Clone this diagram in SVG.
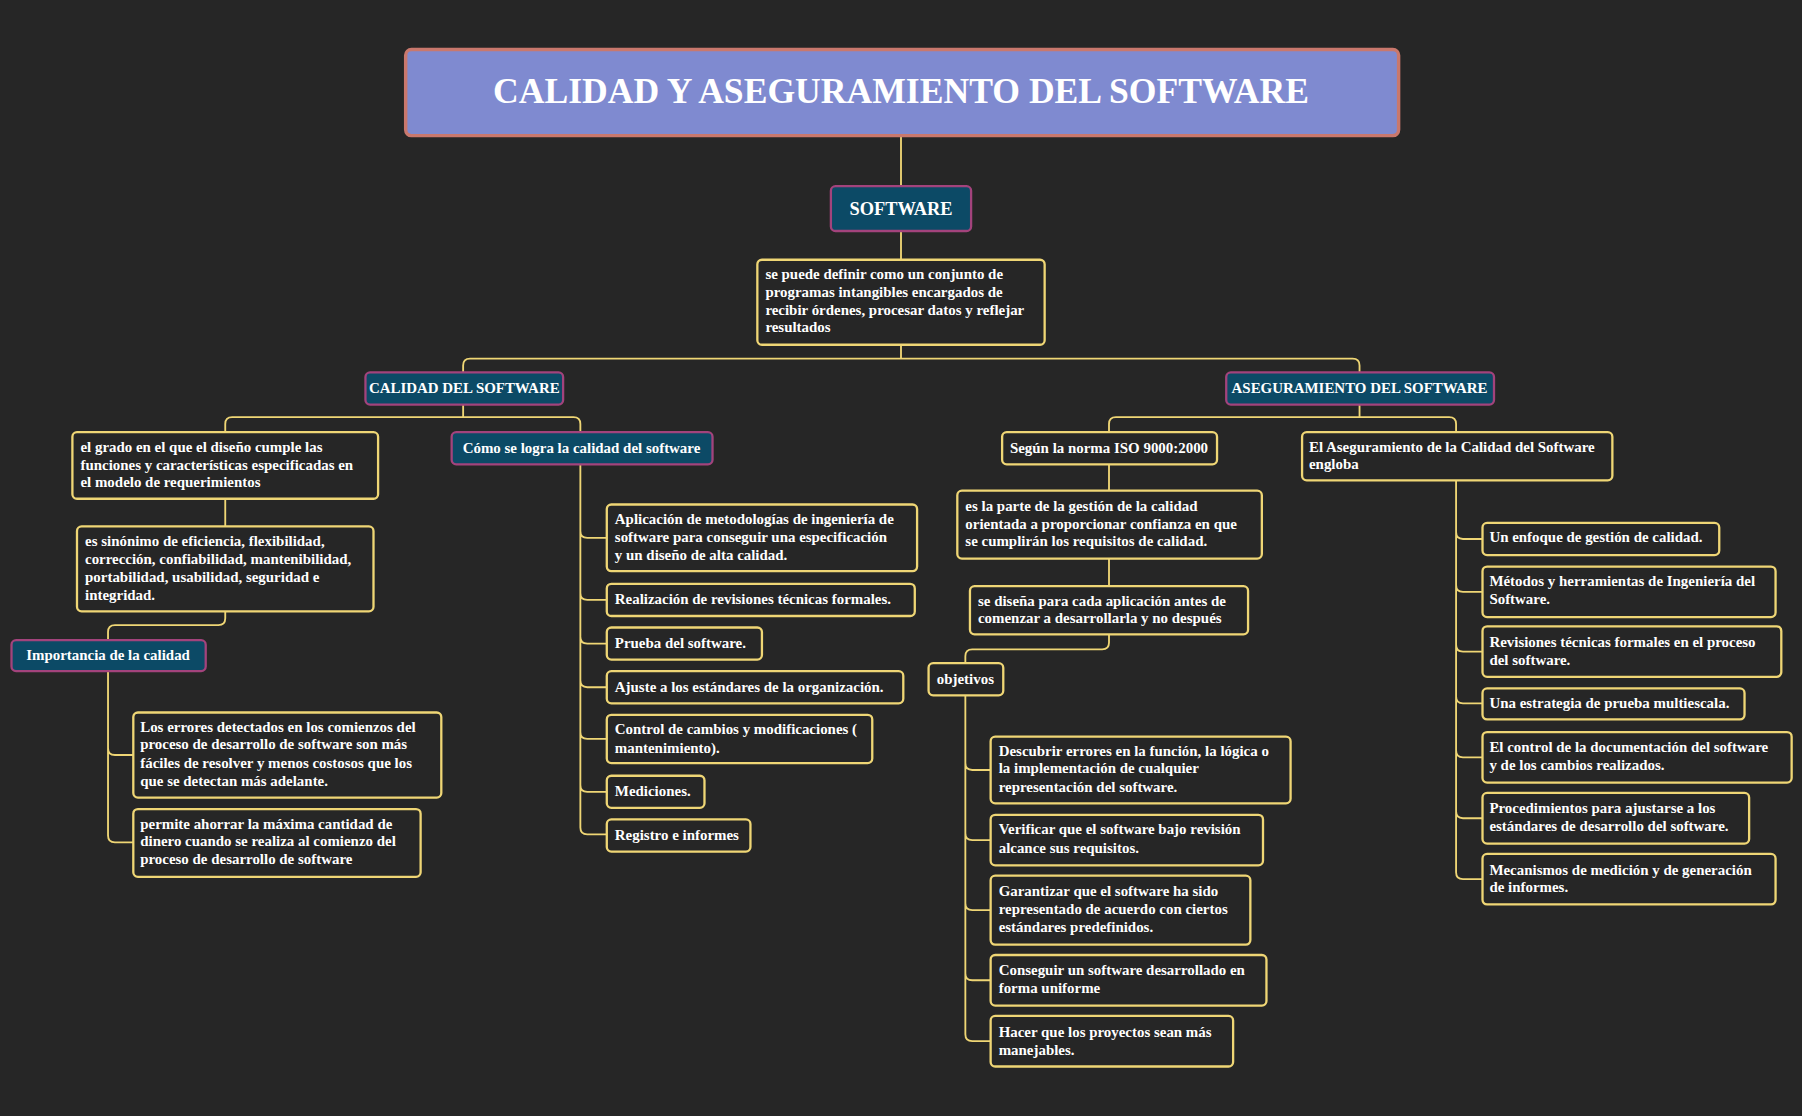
<svg xmlns="http://www.w3.org/2000/svg" width="1802" height="1116" viewBox="0 0 1802 1116">
<style>
.bg{fill:#262626}
.n rect{fill:#262626;stroke:#efd675;stroke-width:2}
.b rect{fill:#0c4a66;stroke:#a3437c;stroke-width:2}
text{font-family:"Liberation Serif","DejaVu Serif",serif;font-weight:bold;fill:#ffffff;font-size:13px}
.b text{font-size:13px}
#connectors path{fill:none;stroke:#efd675;stroke-width:1.6}
</style>
<rect class="bg" width="1802" height="1116"/>
<g transform="scale(1.14923)">
<g id="connectors">
<path d="M784,118V162M784,201V226M784,300V312M403,324V318q0,-6 6,-6H1177q6,0 6,6V324"/>
<path d="M403,352V363M196,376V369q0,-6 6,-6H499q6,0 6,6V376"/>
<path d="M1183,352V363M965,376V369q0,-6 6,-6H1261q6,0 6,6V376"/>
<path d="M196,434V458M196,532V538q0,6 -6,6H100q-6,0 -6,6V557"/>
<path d="M94,584V727q0,6 6,6H117M94,651q0,6 6,6H117"/>
<path d="M505,404V720q0,6 6,6H528M505,462q0,6 6,6H528M505,516q0,6 6,6H528M505,554q0,6 6,6H528M505,592q0,6 6,6H528M505,637q0,6 6,6H528M505,683q0,6 6,6H528"/>
<path d="M965,404V427M965,486V510M965,552V559q0,6 -6,6H846q-6,0 -6,6V577"/>
<path d="M840,605V900q0,6 6,6H862M840,664q0,6 6,6H862M840,725q0,6 6,6H862M840,786q0,6 6,6H862M840,847q0,6 6,6H862"/>
<path d="M1267,418V759q0,6 6,6H1290M1267,463q0,6 6,6H1290M1267,509q0,6 6,6H1290M1267,561q0,6 6,6H1290M1267,606q0,6 6,6H1290M1267,653q0,6 6,6H1290M1267,706q0,6 6,6H1290"/>
</g>
<g id="title"><rect x="353" y="43" width="864" height="75" rx="5" fill="#7f8ad0" stroke="#c9786d" stroke-width="3"/><text x="784" y="90" text-anchor="middle" style="font-size:31px">CALIDAD Y ASEGURAMIENTO DEL SOFTWARE</text></g>
<g id="software" class="b"><rect x="723" y="162" width="122" height="39" rx="4"/><text x="784" y="187" text-anchor="middle" style="font-size:16px">SOFTWARE</text></g>
<g id="def" class="n"><rect x="659" y="226" width="250" height="74" rx="4"/><text x="666"><tspan x="666" y="243">se puede definir como un conjunto de</tspan><tspan x="666" y="258">programas intangibles encargados de</tspan><tspan x="666" y="274">recibir órdenes, procesar datos y reflejar</tspan><tspan x="666" y="289">resultados</tspan></text></g>
<g id="calidad" class="b"><rect x="318" y="324" width="172" height="28" rx="4"/><text x="404" y="342" text-anchor="middle">CALIDAD DEL SOFTWARE</text></g>
<g id="asegur" class="b"><rect x="1067" y="324" width="233" height="28" rx="4"/><text x="1183" y="342" text-anchor="middle">ASEGURAMIENTO DEL SOFTWARE</text></g>
<g id="grado" class="n"><rect x="63" y="376" width="266" height="58" rx="4"/><text><tspan x="70" y="393">el grado en el que el diseño cumple las</tspan><tspan x="70" y="409">funciones y características especificadas en</tspan><tspan x="70" y="424">el modelo de requerimientos</tspan></text></g>
<g id="como" class="b"><rect x="393" y="376" width="227" height="28" rx="4"/><text x="506" y="394" text-anchor="middle">Cómo se logra la calidad del software</text></g>
<g id="sinonimo" class="n"><rect x="67" y="458" width="258" height="74" rx="4"/><text><tspan x="74" y="475">es sinónimo de eficiencia, flexibilidad,</tspan><tspan x="74" y="491">corrección, confiabilidad, mantenibilidad,</tspan><tspan x="74" y="506">portabilidad, usabilidad, seguridad e</tspan><tspan x="74" y="522">integridad.</tspan></text></g>
<g id="importancia" class="b"><rect x="10" y="557" width="169" height="27" rx="4"/><text x="94" y="574" text-anchor="middle">Importancia de la calidad</text></g>
<g id="errores" class="n"><rect x="116" y="620" width="268" height="74" rx="4"/><text><tspan x="122" y="637">Los errores detectados en los comienzos del</tspan><tspan x="122" y="652">proceso de desarrollo de software son más</tspan><tspan x="122" y="668">fáciles de resolver y menos costosos que los</tspan><tspan x="122" y="684">que se detectan más adelante.</tspan></text></g>
<g id="permite" class="n"><rect x="116" y="704" width="250" height="59" rx="4"/><text><tspan x="122" y="721">permite ahorrar la máxima cantidad de</tspan><tspan x="122" y="736">dinero cuando se realiza al comienzo del</tspan><tspan x="122" y="752">proceso de desarrollo de software</tspan></text></g>
<g id="c1" class="n"><rect x="528" y="439" width="270" height="58" rx="4"/><text><tspan x="535" y="456">Aplicación de metodologías de ingeniería de</tspan><tspan x="535" y="472">software para conseguir una especificación</tspan><tspan x="535" y="487">y un diseño de alta calidad.</tspan></text></g>
<g id="c2" class="n"><rect x="528" y="508" width="268" height="28" rx="4"/><text x="535" y="526">Realización de revisiones técnicas formales.</text></g>
<g id="c3" class="n"><rect x="528" y="546" width="135" height="28" rx="4"/><text x="535" y="564">Prueba del software.</text></g>
<g id="c4" class="n"><rect x="528" y="584" width="258" height="28" rx="4"/><text x="535" y="602">Ajuste a los estándares de la organización.</text></g>
<g id="c5" class="n"><rect x="528" y="622" width="231" height="42" rx="4"/><text><tspan x="535" y="639">Control de cambios y modificaciones (</tspan><tspan x="535" y="655">mantenimiento).</tspan></text></g>
<g id="c6" class="n"><rect x="528" y="675" width="85" height="28" rx="4"/><text x="535" y="693">Mediciones.</text></g>
<g id="c7" class="n"><rect x="528" y="713" width="125" height="28" rx="4"/><text x="535" y="731">Registro e informes</text></g>
<g id="iso" class="n"><rect x="872" y="376" width="187" height="28" rx="4"/><text x="965" y="394" text-anchor="middle">Según la norma ISO 9000:2000</text></g>
<g id="engloba" class="n"><rect x="1133" y="376" width="270" height="42" rx="4"/><text><tspan x="1139" y="393">El Aseguramiento de la Calidad del Software</tspan><tspan x="1139" y="408">engloba</tspan></text></g>
<g id="parte" class="n"><rect x="833" y="427" width="265" height="59" rx="4"/><text><tspan x="840" y="445">es la parte de la gestión de la calidad</tspan><tspan x="840" y="460">orientada a proporcionar confianza en que</tspan><tspan x="840" y="475">se cumplirán los requisitos de calidad.</tspan></text></g>
<g id="disena" class="n"><rect x="844" y="510" width="242" height="42" rx="4"/><text><tspan x="851" y="527">se diseña para cada aplicación antes de</tspan><tspan x="851" y="542">comenzar a desarrollarla y no después</tspan></text></g>
<g id="objetivos" class="n"><rect x="808" y="577" width="65" height="28" rx="4"/><text x="840" y="595" text-anchor="middle">objetivos</text></g>
<g id="o1" class="n"><rect x="862" y="641" width="261" height="58" rx="4"/><text><tspan x="869" y="658">Descubrir errores en la función, la lógica o</tspan><tspan x="869" y="673">la implementación de cualquier</tspan><tspan x="869" y="689">representación del software.</tspan></text></g>
<g id="o2" class="n"><rect x="862" y="709" width="237" height="44" rx="4"/><text><tspan x="869" y="726">Verificar que el software bajo revisión</tspan><tspan x="869" y="742">alcance sus requisitos.</tspan></text></g>
<g id="o3" class="n"><rect x="862" y="762" width="226" height="60" rx="4"/><text><tspan x="869" y="780">Garantizar que el software ha sido</tspan><tspan x="869" y="795">representado de acuerdo con ciertos</tspan><tspan x="869" y="811">estándares predefinidos.</tspan></text></g>
<g id="o4" class="n"><rect x="862" y="831" width="240" height="44" rx="4"/><text><tspan x="869" y="848">Conseguir un software desarrollado en</tspan><tspan x="869" y="864">forma uniforme</tspan></text></g>
<g id="o5" class="n"><rect x="862" y="884" width="211" height="44" rx="4"/><text><tspan x="869" y="902">Hacer que los proyectos sean más</tspan><tspan x="869" y="918">manejables.</tspan></text></g>
<g id="e1" class="n"><rect x="1290" y="455" width="206" height="28" rx="4"/><text x="1296" y="472">Un enfoque de gestión de calidad.</text></g>
<g id="e2" class="n"><rect x="1290" y="493" width="255" height="44" rx="4"/><text><tspan x="1296" y="510">Métodos y herramientas de Ingeniería del</tspan><tspan x="1296" y="526">Software.</tspan></text></g>
<g id="e3" class="n"><rect x="1290" y="545" width="260" height="44" rx="4"/><text><tspan x="1296" y="563">Revisiones técnicas formales en el proceso</tspan><tspan x="1296" y="579">del software.</tspan></text></g>
<g id="e4" class="n"><rect x="1290" y="599" width="228" height="27" rx="4"/><text x="1296" y="616">Una estrategia de prueba multiescala.</text></g>
<g id="e5" class="n"><rect x="1290" y="637" width="269" height="44" rx="4"/><text><tspan x="1296" y="654">El control de la documentación del software</tspan><tspan x="1296" y="670">y de los cambios realizados.</tspan></text></g>
<g id="e6" class="n"><rect x="1290" y="690" width="232" height="44" rx="4"/><text><tspan x="1296" y="707">Procedimientos para ajustarse a los</tspan><tspan x="1296" y="723">estándares de desarrollo del software.</tspan></text></g>
<g id="e7" class="n"><rect x="1290" y="743" width="255" height="44" rx="4"/><text><tspan x="1296" y="761">Mecanismos de medición y de generación</tspan><tspan x="1296" y="776">de informes.</tspan></text></g>
</g>
</svg>
